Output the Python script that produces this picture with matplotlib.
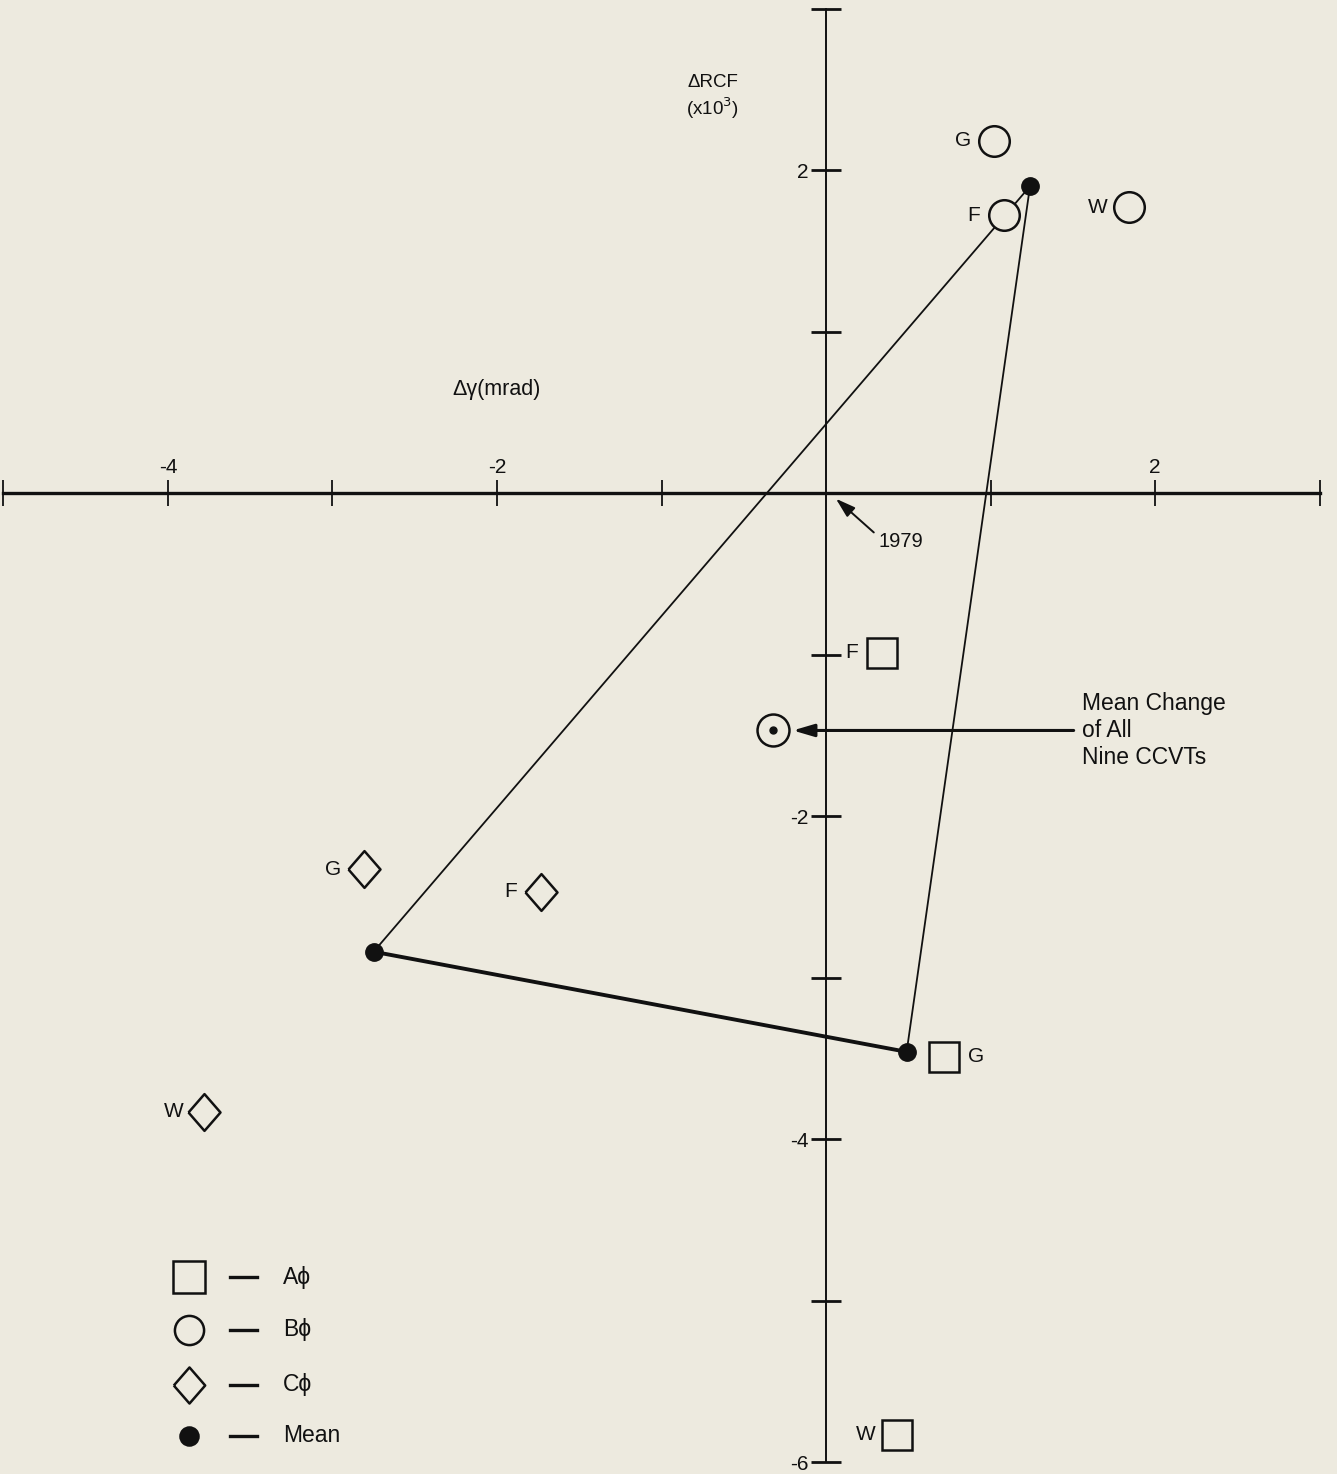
import matplotlib
matplotlib.use("Agg")
import matplotlib.pyplot as plt

plt.rcParams["font.family"] = ["Liberation Sans", "DejaVu Sans"]

BG = "#EDEADF"
INK = "#111111"

# Change in ratio correction factor (x10^3) vs change in phase angle (mrad)
# for each CCVT (F, G, W) on each phase.
a_names = ["F", "G", "W"]
a_dgamma = [0.34, 0.72, 0.43]
a_drcf = [-0.99, -3.49, -5.83]
a_side = ["left", "right", "left"]

b_names = ["G", "F", "W"]
b_dgamma = [1.02, 1.08, 1.84]
b_drcf = [2.18, 1.72, 1.77]
b_side = ["left", "left", "left"]

c_names = ["G", "F", "W"]
c_dgamma = [-2.81, -1.73, -3.78]
c_drcf = [-2.33, -2.47, -3.83]
c_side = ["left", "left", "left"]

# Mean of each phase, order A, B, C
mean_dgamma = [0.49, 1.24, -2.75]
mean_drcf = [-3.46, 1.90, -2.84]

# Mean change of all nine CCVTs
all_dgamma = -0.32
all_drcf = -1.47

x_ticks = [-5, -4, -3, -2, -1, 1, 2, 3]
x_label_vals = [-4, -2, 2]
x_label_text = ["-4", "-2", "2"]
y_ticks = [3, 2, 1, -1, -2, -3, -4, -5, -6]
y_tick_text = ["", "2", "", "", "-2", "", "-4", "", "-6"]

legend_names = ["A\u03d5", "B\u03d5", "C\u03d5", "Mean"]

fig = plt.figure(figsize=(13.37, 14.74), dpi=100, facecolor=BG)
ax = fig.add_axes([0, 0, 1, 1], facecolor=BG)
ax.set_xlim(-5.021, 3.106)
ax.set_ylim(-6.074, 3.053)

# Axes crossing at the origin
for s in ("top", "right"):
    ax.spines[s].set_visible(False)
ax.spines["left"].set_position(("data", 0))
ax.spines["bottom"].set_position(("data", 0))
ax.spines["left"].set_bounds(-6, 3)
ax.spines["bottom"].set_bounds(-5, 3)
ax.spines["left"].set_linewidth(1.4)
ax.spines["bottom"].set_linewidth(2.4)
ax.spines["left"].set_color(INK)
ax.spines["bottom"].set_color(INK)

ax.set_xticks(x_ticks)
ax.set_xticklabels([])
ax.tick_params(axis="x", direction="inout", length=19, width=1.3, color=INK)
ax.set_yticks(y_ticks)
ax.set_yticklabels(y_tick_text)
ax.tick_params(axis="y", direction="inout", length=21, width=2.0, color=INK,
               labelsize=15, pad=2, labelcolor=INK)

for v, t in zip(x_label_vals, x_label_text):
    ax.text(v, 0.16, t, ha="center", va="center", fontsize=15, color=INK)

ax.text(-0.69, 2.45, "\u0394RCF\n(x10$^{3}$)", ha="center", va="center",
        fontsize=13.5, color=INK, linespacing=1.25)
ax.text(-2.00, 0.64, "\u0394\u03b3(mrad)", ha="center", va="center",
        fontsize=15.5, color=INK)

# Triangle joining the phase means: C -> B -> A thin, A -> C heavy
ax.plot([mean_dgamma[2], mean_dgamma[1], mean_dgamma[0]],
        [mean_drcf[2], mean_drcf[1], mean_drcf[0]],
        color=INK, lw=1.3, zorder=1)
ax.plot([mean_dgamma[0], mean_dgamma[2]], [mean_drcf[0], mean_drcf[2]],
        color=INK, lw=2.8, zorder=1, solid_capstyle="round")

diamond = [(-0.87, 0), (0, 1), (0.87, 0), (0, -1), (-0.87, 0)]

groups = [
    (a_dgamma, a_drcf, a_names, a_side, "s", 22),
    (b_dgamma, b_drcf, b_names, b_side, "o", 22),
    (c_dgamma, c_drcf, c_names, c_side, diamond, 26.5),
]
for xs, ys, names, sides, mk, ms in groups:
    ax.plot(xs, ys, linestyle="none", marker=mk, markersize=ms,
            markerfacecolor=BG, markeredgecolor=INK, markeredgewidth=1.8,
            zorder=3)
    for x, y, n, side in zip(xs, ys, names, sides):
        dx = -22 if side == "left" else 23
        ax.annotate(n, (x, y), xytext=(dx, 0), textcoords="offset points",
                    ha="center", va="center", fontsize=15, color=INK)

ax.plot(mean_dgamma, mean_drcf, linestyle="none", marker="o", markersize=12.5,
        color=INK, zorder=4)

# Overall mean marker
ax.plot([all_dgamma], [all_drcf], linestyle="none", marker="o", markersize=23,
        markerfacecolor=BG, markeredgecolor=INK, markeredgewidth=1.8, zorder=3)
ax.plot([all_dgamma], [all_drcf], linestyle="none", marker="o", markersize=5,
        color=INK, zorder=4)

ax.annotate("Mean Change\nof All\nNine CCVTs", xy=(all_dgamma, all_drcf),
            xytext=(1.556, all_drcf), ha="left", va="center", fontsize=16.5,
            color=INK, linespacing=1.2,
            arrowprops=dict(arrowstyle="-|>,head_length=0.85,head_width=0.25",
                            mutation_scale=15, lw=2.2, color=INK,
                            shrinkA=4, shrinkB=14, relpos=(0, 0.5)))

ax.annotate("1979", xy=(0.06, -0.035), xytext=(0.32, -0.30), ha="left",
            va="center", fontsize=14.5, color=INK,
            arrowprops=dict(arrowstyle="-|>,head_length=0.8,head_width=0.25",
                            mutation_scale=15, lw=1.4, color=INK,
                            shrinkA=2, shrinkB=0, relpos=(0, 0.75)))

# Key
key_y = [0.1336, 0.0977, 0.0604, 0.0258]
key_markers = ["s", "o", diamond, "o"]
key_sizes = [23, 21, 26, 13]
key_fill = [BG, BG, BG, INK]
for y, mk, ms, fc, name in zip(key_y, key_markers, key_sizes, key_fill,
                               legend_names):
    ax.plot([0.1414], [y], transform=ax.transAxes, linestyle="none",
            marker=mk, markersize=ms, markerfacecolor=fc,
            markeredgecolor=INK, markeredgewidth=1.8, clip_on=False)
    ax.plot([0.172, 0.1922], [y, y], transform=ax.transAxes, color=INK,
            lw=2.4, clip_on=False)
    ax.text(0.2117, y, name, transform=ax.transAxes, ha="left", va="center",
            fontsize=16.5, color=INK)

fig.savefig("out.png", dpi=100, facecolor=BG)
